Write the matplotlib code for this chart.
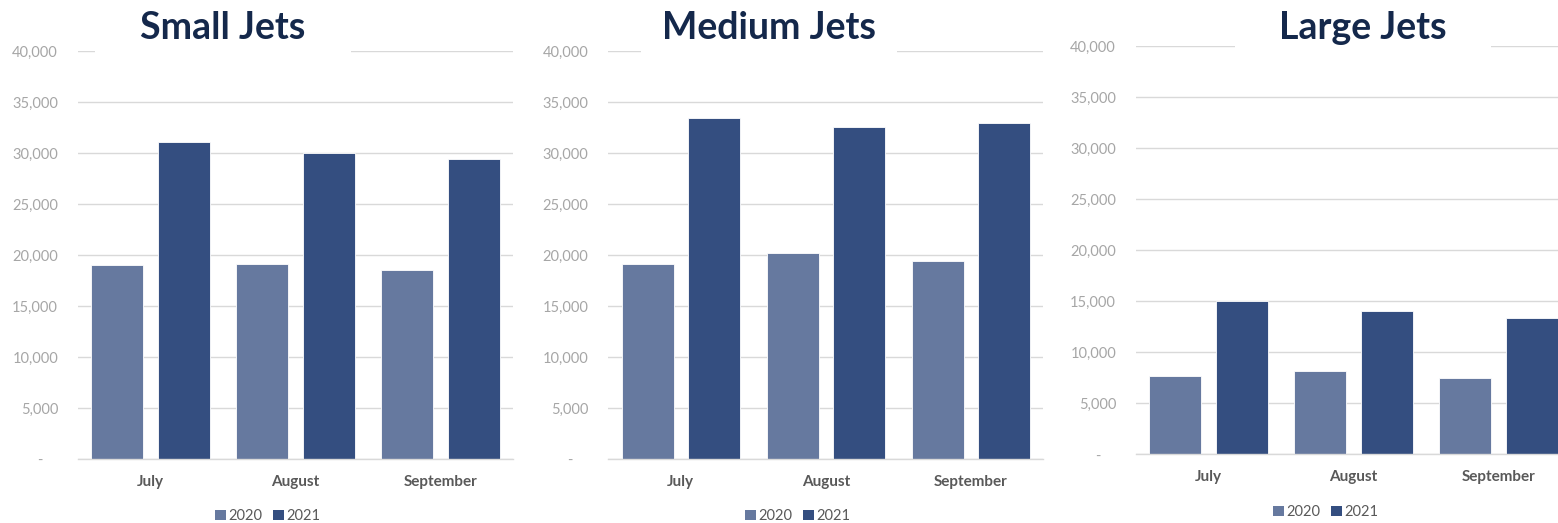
import matplotlib
matplotlib.use("Agg")
import matplotlib.pyplot as plt
import numpy as np
from matplotlib.patches import Rectangle, Patch
from matplotlib.ticker import FuncFormatter, MultipleLocator

plt.rcParams['font.family'] = ['Lato', 'DejaVu Sans']

months = ["July", "August", "September"]
years = ["2020", "2021"]
titles = ["Small Jets", "Medium Jets", "Large Jets"]
small_2020 = [19050, 19150, 18550]
small_2021 = [31100, 30000, 29450]
medium_2020 = [19120, 20200, 19410]
medium_2021 = [33430, 32550, 32940]
large_2020 = [7680, 8110, 7480]
large_2021 = [14980, 14050, 13300]
data = [(small_2020, small_2021), (medium_2020, medium_2021), (large_2020, large_2021)]

c2020 = "#66799F"
c2021 = "#344E80"
title_color = "#14284B"
grid_color = "#D9D9D9"
tick_color = "#A6A6A6"
label_color = "#595959"

W, H = 1558, 523
fig = plt.figure(figsize=(W / 100, H / 100), dpi=100)

# layout in pixels: (axis left, axis bottom y, title center x, legend center x, legend y)
layout = [
    (78, 459, 223, 268, 516),
    (608.3, 459, 769, 798, 516),
    (1136, 454, 1362.7, 1326, 512),
]
ax_w, ax_h = 435, 408
bar_w = 0.3586
off = 0.2276

def fmt(v, pos):
    if abs(v) < 1:
        return "-    "
    return f"{int(v):,}"

for (left, bottom, tcx, lcx, ly), (v20, v21), title in zip(layout, data, titles):
    ax = fig.add_axes([left / W, (H - bottom) / H, ax_w / W, ax_h / H])
    x = np.arange(len(months))
    ax.bar(x - off, v20, bar_w, color=c2020, edgecolor="white", linewidth=0.6, zorder=3, label=years[0])
    ax.bar(x + off, v21, bar_w, color=c2021, edgecolor="white", linewidth=0.6, zorder=3, label=years[1])
    ax.set_xlim(-0.5, 2.5)
    ax.set_ylim(0, 40000)
    ax.yaxis.set_major_locator(MultipleLocator(5000))
    ax.yaxis.set_major_formatter(FuncFormatter(fmt))
    ax.grid(axis="y", color=grid_color, linewidth=1.0, zorder=0)
    ax.set_axisbelow(True)
    for s in ["top", "right", "left"]:
        ax.spines[s].set_visible(False)
    ax.spines["bottom"].set_color(grid_color)
    ax.spines["bottom"].set_linewidth(1.0)
    ax.spines["bottom"].set_zorder(4)
    ax.set_xticks(x)
    ax.set_xticklabels(months, fontweight="bold", color=label_color, fontsize=11)
    ax.tick_params(axis="x", length=0, pad=11.5)
    ax.tick_params(axis="y", length=0, pad=14.4, labelcolor=tick_color, labelsize=10.5)
    ax.patch.set_alpha(0)

    # white band behind title, interrupting the top gridline
    fig.patches.append(Rectangle(((tcx - 128) / W, (H - 58) / H), 256 / W, 58 / H,
                                 transform=fig.transFigure, facecolor="white",
                                 edgecolor="none", zorder=5))
    fig.text(tcx / W, (H - 39) / H, title, ha="center", va="baseline",
             fontsize=27, fontweight="bold", color=title_color, zorder=6)

    handles = [Patch(facecolor=c2020, edgecolor="none"), Patch(facecolor=c2021, edgecolor="none")]
    fig.legend(handles, years, loc="center", bbox_to_anchor=(lcx / W, (H - ly) / H),
               ncol=2, frameon=False, fontsize=10.5, labelcolor=label_color,
               handlelength=0.7, handleheight=0.7, handletextpad=0.2,
               columnspacing=0.75, borderpad=0, borderaxespad=0)

fig.savefig("out.png", dpi=100, facecolor="white")
